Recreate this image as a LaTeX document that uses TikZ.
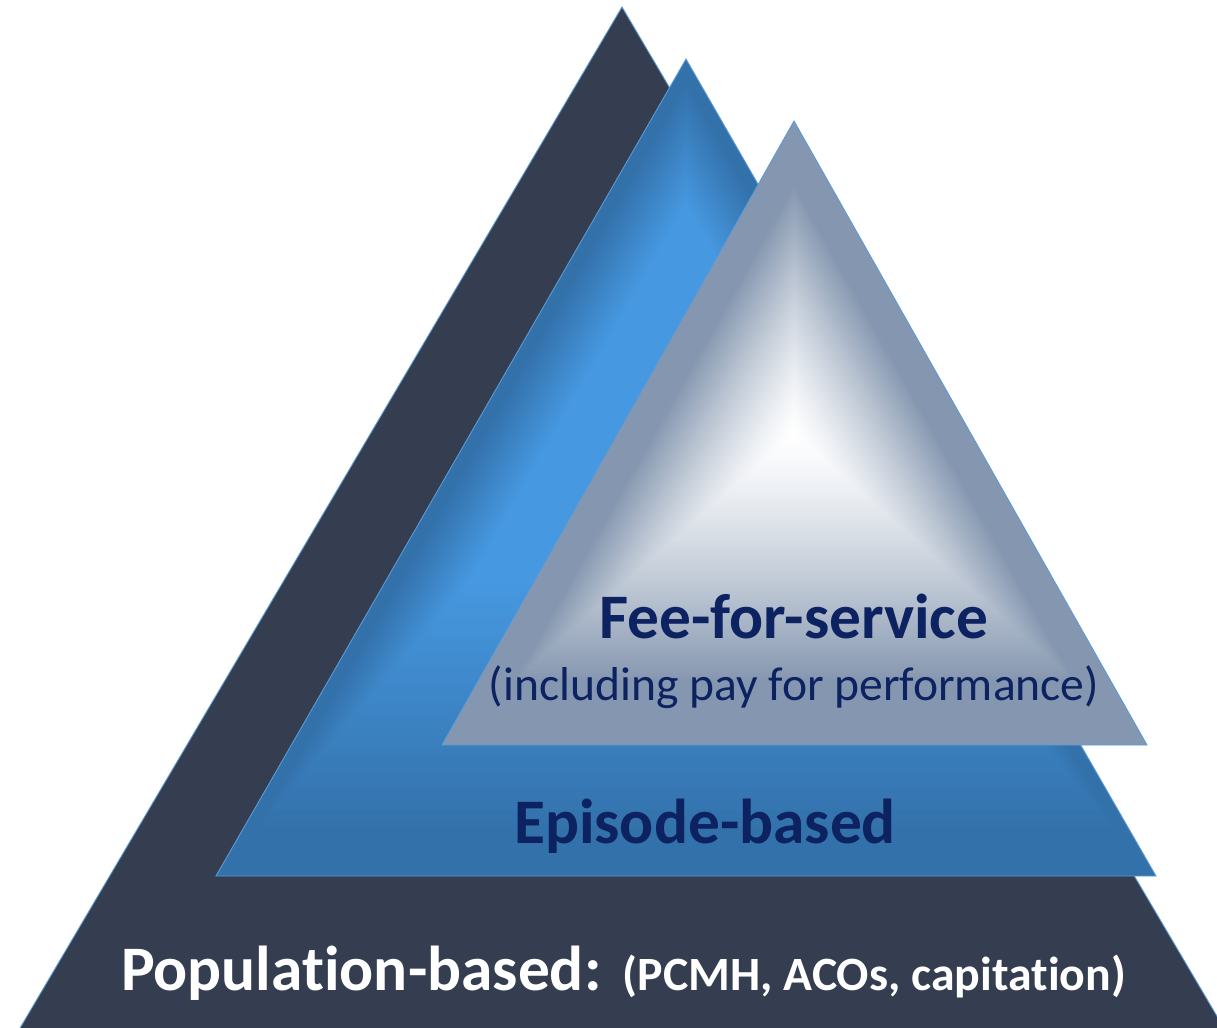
\documentclass[tikz,border=0pt]{standalone}
\usepackage{fontspec}
\setmainfont{Carlito}[Ligatures=NoCommon]
\usetikzlibrary{calc}

\definecolor{popdark}{HTML}{343E50}
\definecolor{epiedge}{HTML}{3371AB}
\definecolor{epilight}{HTML}{4698E0}
\definecolor{feeedge}{HTML}{8597B0}
\definecolor{tiernavy}{HTML}{0D2260}
\definecolor{rimblue}{HTML}{5B9BD5}

\tikzset{
  rim/.style={draw=rimblue,line width=0.45pt},
  tierlabel/.style={font=\bfseries\fontsize{31.7}{36}\selectfont,text=tiernavy,inner sep=0pt,anchor=base},
  tiernote/.style={font=\fontsize{23.8}{28}\selectfont,text=tiernavy,inner sep=0pt,anchor=base}
}

\begin{document}
\begin{tikzpicture}[x=0.5pt,y=-0.5pt]
    \useasboundingbox (0,0) rectangle (1217,1028);
    % outer tier: population-based
    \begin{scope}
    \clip (0,0) rectangle (1217,1028);
    \coordinate (pa) at (622,7);
    \coordinate (pl) at (13,1040);
    \coordinate (pr) at (1231,1040);
    \fill [popdark] (pa) -- (pl) -- (pr) -- cycle;
    \draw [rim] (pa) -- (pl) -- (pr) -- cycle;
    \end{scope}
    % middle tier: episode-based (path gradient as nested triangles)
    \coordinate (ea) at (686,59);
    \coordinate (el) at (216,876);
    \coordinate (er) at (1156,876);
    \coordinate (ec) at (686,330);
    \foreach \k in {0,...,99} {
        \pgfmathsetmacro\t{1-\k/100}
        \pgfmathsetmacro\f{min(100,max(0,(0.92-\t)/0.45*100))}
        \fill [epilight!\f!epiedge] ($(ec)!\t!(ea)$) -- ($(ec)!\t!(el)$) -- ($(ec)!\t!(er)$) -- cycle;
    }
    \draw [rim] (ea) -- (el) -- (er) -- cycle;
    % inner tier: fee-for-service
    \coordinate (fa) at (794,121);
    \coordinate (fl) at (442,745);
    \coordinate (fr) at (1147,745);
    \coordinate (fc) at (794,433);
    \foreach \k in {0,...,99} {
        \pgfmathsetmacro\t{1-\k/100}
        \pgfmathsetmacro\g{100*(min(1,\t/0.8))^1.3}
        \fill [feeedge!\g!white] ($(fc)!\t!(fa)$) -- ($(fc)!\t!(fl)$) -- ($(fc)!\t!(fr)$) -- cycle;
    }
    \draw [rim] (fa) -- (fl) -- (fr) -- cycle;
    % labels
    \node [tierlabel] (fee) at (794,638.5) {Fee-for-service};
    \node [tiernote] (feenote) at (794,700) {(including pay for performance)};
    \node [tierlabel] (episode) at (705,843.5) {Episode-based};
    \node [tierlabel,text=white] (population) at (623.5,990) {Population-based:\fontsize{23.9}{28}\selectfont\ \ (PCMH, ACOs, capitation)};
\end{tikzpicture}
\end{document}
